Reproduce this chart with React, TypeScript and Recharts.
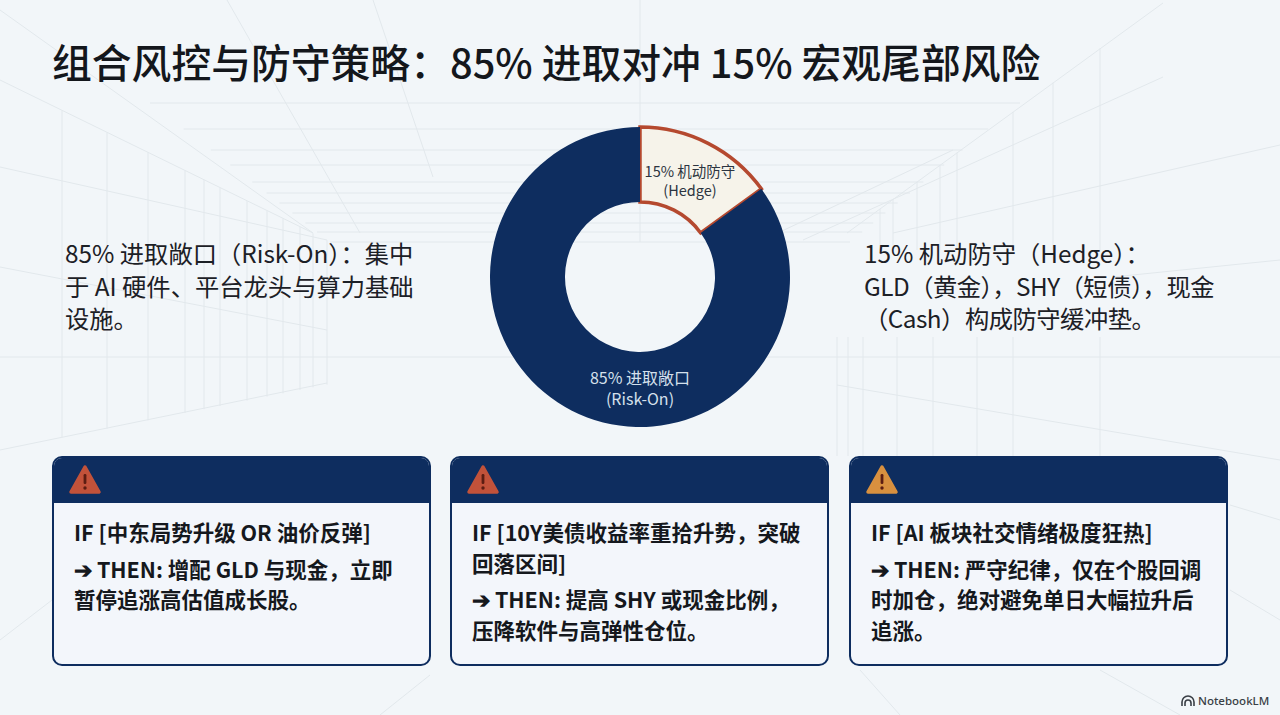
import { Cell, Pie, PieChart } from "recharts";

const FONT = '"Noto Sans CJK SC", "Noto Sans", sans-serif';
const NAVY = "#0e2d5f";
const RED = "#b5492f";

const segmentNames = ["15% 机动防守", "85% 进取敞口"];
const segmentSubs = ["(Hedge)", "(Risk-On)"];
const segmentValues = [15, 85];
const segmentFills = ["#f6f3ea", NAVY];
const segmentStrokes = [RED, NAVY];
const segmentWidths = [3.5, 0];

const pieData = segmentNames.map((name, i) => ({ name, sub: segmentSubs[i], value: segmentValues[i] }));

const titleText = "组合风控与防守策略：85% 进取对冲 15% 宏观尾部风险";
const leftNote = ["85% 进取敞口（Risk-On）：集中", "于 AI 硬件、平台龙头与算力基础", "设施。"];
const rightNote = ["15% 机动防守（Hedge）：", "GLD（黄金），SHY（短债），现金", "（Cash）构成防守缓冲垫。"];
const leftTrack = [0, 0, 0];
const rightTrack = [0, -0.5, -0.5];

const cardLefts = [52, 450, 849];
const cardIconFills = ["#c2523a", "#c2523a", "#d8903f"];
const cardIfs = [
  ["IF [中东局势升级 OR 油价反弹]"],
  ["IF [10Y美债收益率重拾升势，突破", "回落区间]"],
  ["IF [AI 板块社交情绪极度狂热]"],
];
const cardThens = [
  ["➔ THEN: 增配 GLD 与现金，立即", "暂停追涨高估值成长股。"],
  ["➔ THEN: 提高 SHY 或现金比例，", "压降软件与高弹性仓位。"],
  ["➔ THEN: 严守纪律，仅在个股回调", "时加仓，绝对避免单日大幅拉升后", "追涨。"],
];

// backdrop: perspective room, left and right walls are not quite symmetric
const ceilingRows = [103, 129, 150, 165, 182, 193, 203, 213, 223, 232, 242];
const leftColumns = [62, 107, 148, 185, 204, 220, 247, 267, 283, 300, 313, 327];
const rightUpperColumns = [1100, 1053, 1013, 957, 940, 917, 893, 880];
const rightLowerColumns = [837, 848, 863, 897, 933, 977, 1013, 1100];
const diagonals = [
  [0, 10, 313, 233],
  [0, 80, 313, 233],
  [0, 167, 327, 240],
  [0, 267, 327, 330],
  [0, 450, 327, 383],
  [227, 0, 360, 233],
  [373, 0, 433, 177],
  [847, 233, 1163, 3],
  [803, 240, 1163, 77],
  [763, 240, 953, 150],
  [893, 233, 1280, 145],
  [837, 385, 1280, 460],
  [1113, 277, 1280, 260],
  [1230, 505, 1280, 520],
  [1230, 590, 1280, 620],
  [860, 670, 900, 715],
  [1100, 670, 1180, 715],
  [430, 675, 380, 715],
  [0, 640, 52, 600],
];

function Backdrop() {
  return (
    <svg width={1280} height={715} style={{ position: "absolute", left: 0, top: 0 }}>
      <rect width={1280} height={715} fill="#f2f6f9" />
      <g stroke="#e2e8ec" strokeWidth={1} fill="none">
        {ceilingRows.map((y) => {
          const t = (y - 103) / 139;
          return <line key={y} x1={150 + t * 180} x2={1020 - t * 170} y1={y} y2={y} />;
        })}
        <line x1={0} x2={1280} y1={357} y2={357} />
        {leftColumns.map((x) => (
          <line key={x} x1={x} x2={x} y1={80 + x * 0.49} y2={450 - x * 0.2} />
        ))}
        {rightUpperColumns.map((x) => (
          <line key={x} x1={x} x2={x} y1={233 - (x - 847) * 0.73} y2={250} />
        ))}
        {rightLowerColumns.map((x) => (
          <line key={x} x1={x} x2={x} y1={337} y2={456} />
        ))}
        <line x1={640} x2={640} y1={0} y2={242} />
        {diagonals.map((d) => (
          <line key={d.join()} x1={d[0]} y1={d[1]} x2={d[2]} y2={d[3]} />
        ))}
      </g>
    </svg>
  );
}

function SegmentLabel(props: any) {
  const { cx, cy, index, midAngle, name, sub } = props;
  const isHedge = index === 0;
  const rad = (midAngle * Math.PI) / 180;
  const x = isHedge ? cx + 110 * Math.cos(rad) : cx;
  const y = isHedge ? cy - 110 * Math.sin(rad) - 2 : cy + 107;
  const fill = isHedge ? "#2c3440" : "#d5e0ec";
  const size = isHedge ? 14.5 : 16;
  return (
    <text x={x} y={y} textAnchor="middle" fill={fill} fontSize={size} fontFamily={FONT}>
      <tspan x={x} dy={0}>{name}</tspan>
      <tspan x={x} dy={isHedge ? 19 : 21}>{sub}</tspan>
    </text>
  );
}

function WarningIcon({ fill }: { fill: string }) {
  return (
    <svg width={34} height={32} viewBox="0 0 34 32" style={{ position: "absolute", left: 14, top: 6 }}>
      <path d="M17 3 L31 28 L3 28 Z" fill={fill} stroke={fill} strokeWidth={3.5} strokeLinejoin="round" />
      <rect x={15.6} y={10} width={2.8} height={10} rx={1.2} fill="#5c1d12" />
      <circle cx={17} cy={24} r={1.7} fill="#5c1d12" />
    </svg>
  );
}

function RuleCard({ index }: { index: number }) {
  const lineBox = { margin: 0, whiteSpace: "nowrap" as const };
  return (
    <div
      style={{
        position: "absolute",
        left: cardLefts[index],
        top: 456,
        width: 379,
        height: 210,
        boxSizing: "border-box",
        border: `2px solid ${NAVY}`,
        borderRadius: 10,
        background: "#f3f6fb",
        overflow: "hidden",
      }}
    >
      <div style={{ height: 45, background: NAVY, position: "relative" }}>
        <WarningIcon fill={cardIconFills[index]} />
      </div>
      <div style={{ padding: "14px 0 0 20px", fontSize: 21.5, fontWeight: 700, lineHeight: "30.5px", color: "#15181d" }}>
        {cardIfs[index].map((t) => (
          <p key={t} style={lineBox}>{t}</p>
        ))}
        <div style={{ height: 6 }} />
        {cardThens[index].map((t) => (
          <p key={t} style={lineBox}>{t}</p>
        ))}
      </div>
    </div>
  );
}

function Note({ left, top, lines, track }: { left: number; top: number; lines: string[]; track: number[] }) {
  return (
    <div style={{ position: "absolute", left, top, fontSize: 24.3, lineHeight: "32.5px", color: "#1c2026", whiteSpace: "nowrap" }}>
      {lines.map((t, i) => (
        <div key={t} style={{ letterSpacing: track[i] }}>{t}</div>
      ))}
    </div>
  );
}

export default function App() {
  return (
    <div style={{ position: "absolute", left: 0, top: 0, width: 1280, height: 715, overflow: "hidden", fontFamily: FONT }}>
      <Backdrop />
      <div style={{ position: "absolute", left: 52, top: 31, fontSize: 39.8, fontWeight: 500, lineHeight: "60px", color: "#14171c", whiteSpace: "nowrap" }}>
        {titleText}
      </div>
      <Note left={65} top={237} lines={leftNote} track={leftTrack} />
      <Note left={864} top={237} lines={rightNote} track={rightTrack} />
      <PieChart width={1280} height={715} margin={{ top: 0, right: 0, bottom: 0, left: 0 }} style={{ position: "absolute", left: 0, top: 0 }}>
        <Pie
          data={pieData}
          dataKey="value"
          cx={640}
          cy={277}
          innerRadius={75}
          outerRadius={150}
          startAngle={90}
          endAngle={-270}
          stroke="none"
          label={SegmentLabel}
          labelLine={false}
          isAnimationActive={false}
        >
          {pieData.map((d, i) => (
            <Cell key={d.name} fill={segmentFills[i]} stroke={segmentStrokes[i]} strokeWidth={segmentWidths[i]} />
          ))}
        </Pie>
      </PieChart>
      {cardLefts.map((_, i) => (
        <RuleCard key={i} index={i} />
      ))}
      <div style={{ position: "absolute", left: 1181, top: 692, fontSize: 11.5, fontWeight: 500, lineHeight: "18px", color: "#3a3f46", fontFamily: '"Noto Sans", sans-serif', display: "flex", alignItems: "center", gap: 3 }}>
        <svg width={14} height={12} viewBox="0 0 14 12">
          <path d="M1 11 V7 A6 6 0 0 1 13 7 V11" fill="none" stroke="#3a3f46" strokeWidth={1.6} />
          <path d="M4 11 V8 A3 3 0 0 1 10 8 V11" fill="none" stroke="#3a3f46" strokeWidth={1.6} />
        </svg>
        <span>NotebookLM</span>
      </div>
    </div>
  );
}
